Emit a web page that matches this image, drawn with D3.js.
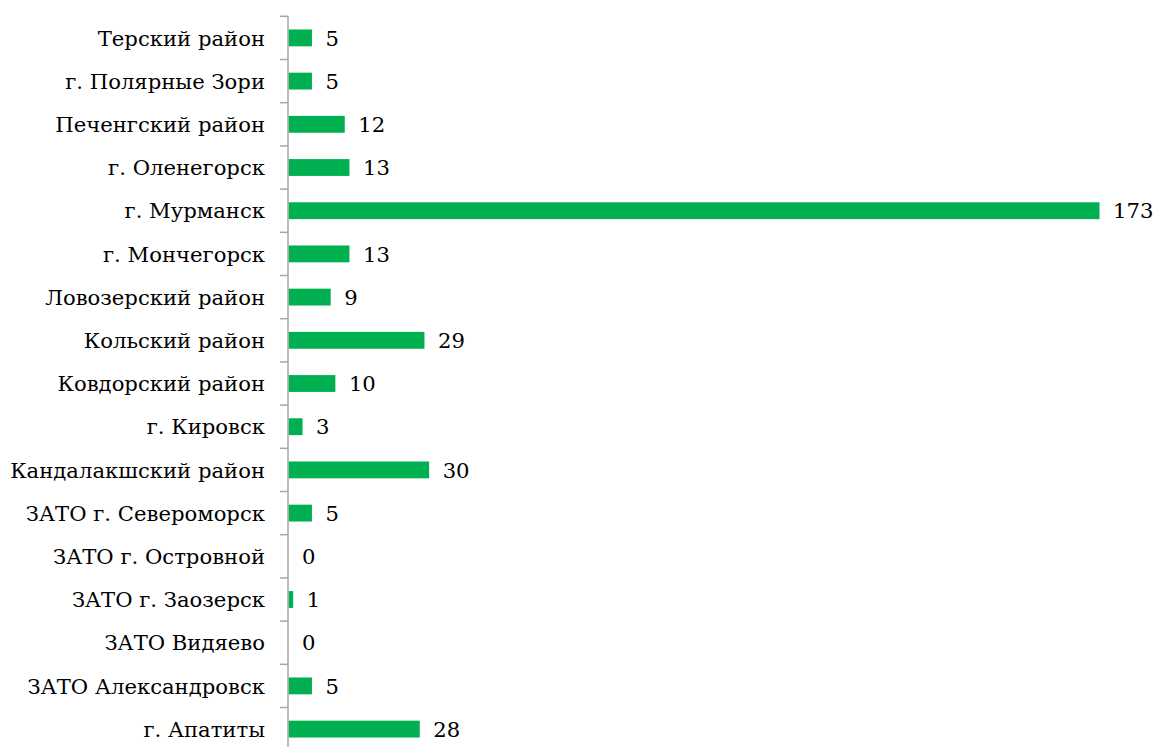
<!DOCTYPE html>
<html>
<head>
<meta charset="utf-8">
<script src="https://cdn.jsdelivr.net/npm/d3@7"></script>
<style>
  body { margin: 0; background: #fff; }
</style>
</head>
<body>
<div id="chart"></div>
<script>
// categories top to bottom
var categories = [
  "Терский район", "г. Полярные Зори", "Печенгский район", "г. Оленегорск",
  "г. Мурманск", "г. Мончегорск", "Ловозерский район", "Кольский район",
  "Ковдорский район", "г. Кировск", "Кандалакшский район", "ЗАТО г. Североморск",
  "ЗАТО г. Островной", "ЗАТО г. Заозерск", "ЗАТО Видяево", "ЗАТО Александровск",
  "г. Апатиты"
];
var values = [5, 5, 12, 13, 173, 13, 9, 29, 10, 3, 30, 5, 0, 1, 0, 5, 28];

(function () {
    var width = 1157, height = 747;
    var axisX = 288, topY = 16.3, step = 43.2;

    var svg = d3.select("#chart").append("svg")
        .attr("width", width)
        .attr("height", height)
        .style("font-family", "'DejaVu Serif', serif")
        .style("font-size", "20px");

    // pick a font size so the widest label spans about 255px
    var probe = svg.append("text").text("Кандалакшский район");
    var w = probe.node().getComputedTextLength();
    probe.remove();
    var fs = Math.min(27, 20 * 255 / w);
    svg.style("font-size", fs + "px");

    var x = d3.scaleLinear()
        .domain([0, 173])
        .range([axisX, 1099]);

    var y = d3.scaleBand()
        .domain(categories)
        .range([topY, topY + step * categories.length])
        .paddingInner(0.61)
        .paddingOuter(0.305);

    // bars
    svg.selectAll(".bar")
        .data(values)
        .enter().append("rect")
        .attr("class", "bar")
        .attr("x", x(0) + 0.5)
        .attr("y", function (d, i) { return y(categories[i]); })
        .attr("width", function (d) { return Math.max(0, x(d) - x(0)); })
        .attr("height", y.bandwidth())
        .attr("fill", "#00b050");

    // value labels
    svg.selectAll(".val")
        .data(values)
        .enter().append("text")
        .attr("class", "val")
        .attr("x", function (d) { return x(d) + 14; })
        .attr("y", function (d, i) { return y(categories[i]) + y.bandwidth() / 2; })
        .attr("dy", "0.36em")
        .text(function (d) { return d; });

    // category axis: line + ticks between categories
    var axisG = svg.append("g");
    axisG.append("line")
        .attr("x1", axisX).attr("x2", axisX)
        .attr("y1", topY).attr("y2", topY + step * categories.length)
        .attr("stroke", "#a6a6a6")
        .attr("stroke-width", 1.5);

    var tickYs = d3.range(categories.length + 1).map(function (i) { return topY + i * step; });
    axisG.selectAll(".tick")
        .data(tickYs)
        .enter().append("line")
        .attr("x1", axisX - 8).attr("x2", axisX)
        .attr("y1", function (d) { return d; })
        .attr("y2", function (d) { return d; })
        .attr("stroke", "#a6a6a6")
        .attr("stroke-width", 1.5);

    axisG.selectAll(".cat")
        .data(categories)
        .enter().append("text")
        .attr("class", "cat")
        .attr("x", axisX - 23)
        .attr("y", function (d) { return y(d) + y.bandwidth() / 2; })
        .attr("dy", "0.36em")
        .attr("text-anchor", "end")
        .text(function (d) { return d; });
})();
</script>
</body>
</html>
